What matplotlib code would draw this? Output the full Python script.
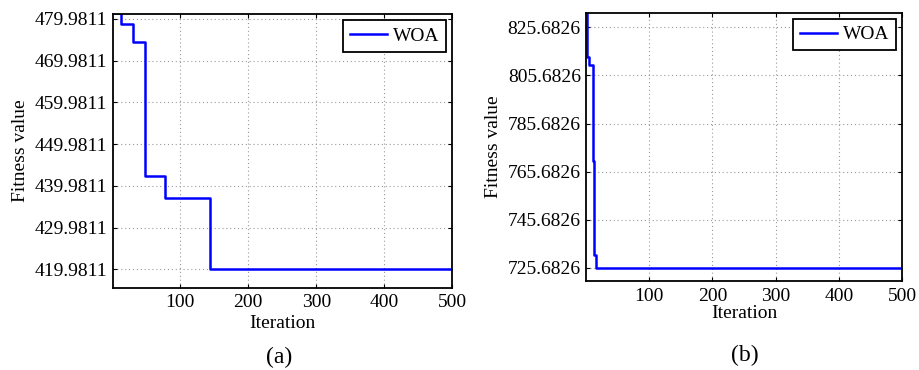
import numpy as np
import matplotlib
matplotlib.use('Agg')
import matplotlib.pyplot as plt
from matplotlib.ticker import FixedLocator, FormatStrFormatter

plt.rcParams['font.family'] = ['Liberation Serif', 'DejaVu Serif']

# (a) convergence curve, value changes at these iterations
iter_a = [1, 12, 31, 48, 78, 143, 500]
fit_a = [481.3, 478.8, 474.5, 442.3, 437.1, 419.9811, 419.9811]
yticks_a = [419.9811, 429.9811, 439.9811, 449.9811, 459.9811, 469.9811, 479.9811]

# (b)
iter_b = [1, 2, 6, 12, 13, 17, 500]
fit_b = [840.0, 813.3, 809.9, 770.0, 730.8, 725.6826, 725.6826]
yticks_b = [725.6826, 745.6826, 765.6826, 785.6826, 805.6826, 825.6826]

xticks = [100, 200, 300, 400, 500]
fs = 14

fig = plt.figure(figsize=(9.19, 3.70), dpi=100)
ax1 = fig.add_axes([0.123, 0.2216, 0.369, 0.740])
ax2 = fig.add_axes([0.638, 0.2414, 0.344, 0.7243])


def style(ax, it, fit, yticks, ylim, xpad, xlabpad):
    ax.plot(it, fit, color='#0000ff', lw=1.8, drawstyle='steps-post', label='WOA')
    ax.set_xlim(1, 500)
    ax.set_ylim(*ylim)
    ax.xaxis.set_major_locator(FixedLocator(xticks))
    ax.yaxis.set_major_locator(FixedLocator(yticks))
    ax.yaxis.set_major_formatter(FormatStrFormatter('%.4f'))
    ax.tick_params(direction='in', top=True, right=True, labelsize=fs,
                   length=3, width=0.8)
    ax.tick_params(axis='y', pad=4)
    ax.tick_params(axis='x', pad=xpad)
    ax.grid(True, linestyle=(0, (1, 2.5)), color='#999999', lw=0.8)
    for s in ax.spines.values():
        s.set_linewidth(1.3)
    ax.set_xlabel('Iteration', fontsize=fs, labelpad=xlabpad)
    ax.set_ylabel('Fitness value', fontsize=fs, labelpad=4)
    leg = ax.legend(loc='upper right', fontsize=fs, fancybox=False,
                    edgecolor='black', framealpha=1, handlelength=1.9,
                    borderpad=0.35, handletextpad=0.3, borderaxespad=0.32)
    leg.get_frame().set_linewidth(1.3)


style(ax1, iter_a, fit_a, yticks_a, (415.5, 481.1), 4.5, 2.5)
style(ax2, iter_b, fit_b, yticks_b, (720.3, 831.8), 5, 0)

fig.text(279 / 919, 1 - 357 / 370, '(a)', fontsize=17, ha='center', va='center')
fig.text(745 / 919, 1 - 355 / 370, '(b)', fontsize=17, ha='center', va='center')

plt.savefig('out.png', dpi=100)
